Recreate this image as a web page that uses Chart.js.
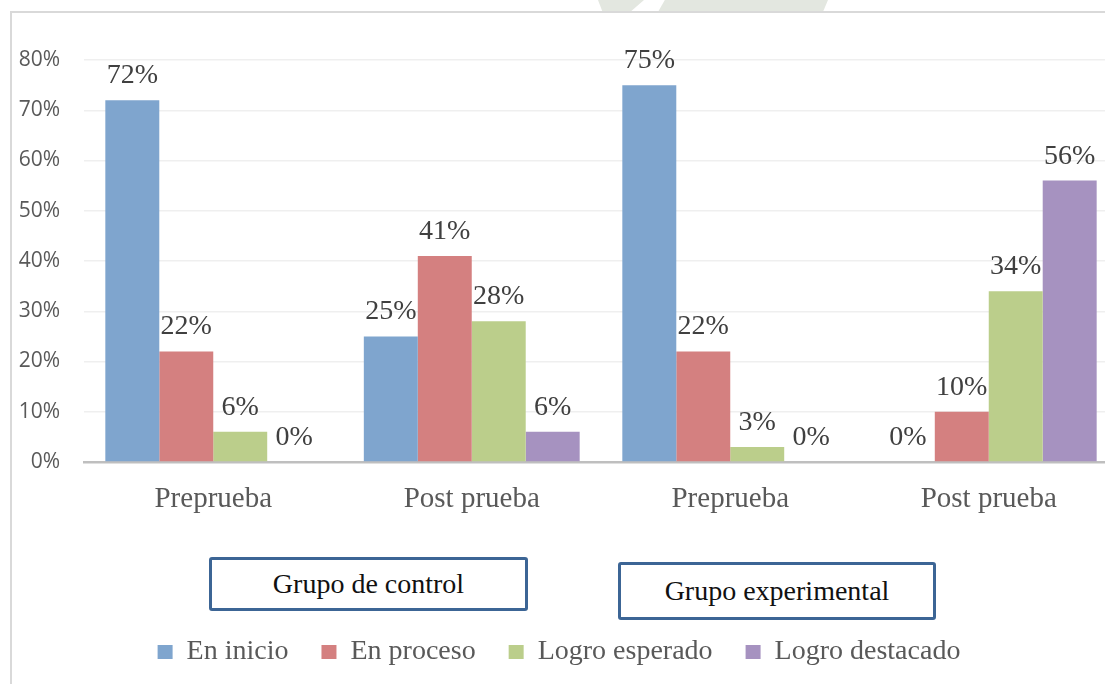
<!DOCTYPE html>
<html lang="es">
<head>
<meta charset="utf-8">
<script src="https://cdn.jsdelivr.net/npm/chart.js@4.4.1/dist/chart.umd.min.js"></script>
<style>
  html, body { margin: 0; padding: 0; background: #fff; overflow: hidden; }
  body { width: 1105px; height: 684px; position: relative; }
  .marco {
    position: absolute; left: 10px; top: 11px; right: -20px; bottom: -20px;
    border-top: 2px solid #d9d9d9; border-left: 2px solid #d9d9d9;
  }
  .sello { position: absolute; top: 0; height: 12px; background: #e3e7e0; }
  #grafico { position: absolute; left: 0; top: 0; }
  .grupo {
    position: absolute; box-sizing: border-box;
    border: 3px solid #3c6595; border-radius: 3px; background: #fff;
    font-family: "Liberation Serif", "Times New Roman", serif; font-size: 28px; color: #111;
    display: flex; align-items: center; justify-content: center;
  }
</style>
</head>
<body>
<div class="sello" style="left:598px;width:46px;clip-path:polygon(0 0,100% 0,70% 100%,10% 100%);"></div>
<div class="sello" style="left:658px;width:170px;clip-path:polygon(4% 0,100% 0,97% 100%,0 100%);"></div>
<div class="marco"></div>
<canvas id="grafico" width="1118" height="684"></canvas>
<div class="grupo" style="left:209px;top:557px;width:319px;height:54px;">Grupo de control</div>
<div class="grupo" style="left:618px;top:562px;width:318px;height:58px;">Grupo experimental</div>

<script>
// Categorías del eje X y porcentajes por nivel de logro
const categorias = ["Preprueba", "Post prueba", "Preprueba", "Post prueba"];

const enInicio       = [72, 25, 75, 0];
const enProceso      = [22, 41, 22, 10];
const logroEsperado  = [6, 28, 3, 34];
const logroDestacado = [0, 6, 0, 56];

const marcasY = [0, 10, 20, 30, 40, 50, 60, 70, 80];

const serif = "'Liberation Serif', 'Times New Roman', serif";

// Etiqueta con el porcentaje encima de cada barra (también los 0%)
const etiquetasBarras = {
  id: "etiquetasBarras",
  afterDatasetsDraw(chart) {
    const ctx = chart.ctx;
    ctx.save();
    ctx.font = "28px " + serif;
    ctx.fillStyle = "#404040";
    ctx.textAlign = "center";
    ctx.textBaseline = "alphabetic";
    chart.data.datasets.forEach((ds, i) => {
      const meta = chart.getDatasetMeta(i);
      meta.data.forEach((barra, j) => {
        ctx.fillText(ds.data[j] + "%", barra.x, barra.y - 17);
      });
    });
    ctx.restore();
  }
};

const serie = (label, data, color) => ({
  label,
  data,
  backgroundColor: color,
  borderWidth: 0,
  categoryPercentage: 0.835,
  barPercentage: 1
});

new Chart(document.getElementById("grafico"), {
  type: "bar",
  data: {
    labels: categorias,
    datasets: [
      serie("En inicio",        enInicio,       "#7fa5ce"),
      serie("En proceso",       enProceso,      "#d48080"),
      serie("Logro esperado",   logroEsperado,  "#bbce8b"),
      serie("Logro destacado",  logroDestacado, "#a692c0")
    ]
  },
  options: {
    responsive: false,
    devicePixelRatio: 1,
    animation: false,
    layout: { padding: { top: 60, left: 0, right: 0, bottom: 8 } },
    plugins: {
      tooltip: { enabled: false },
      legend: {
        position: "bottom",
        labels: {
          boxWidth: 15,
          boxHeight: 14,
          padding: 33,
          color: "#595959",
          font: { family: serif, size: 28 }
        }
      }
    },
    scales: {
      x: {
        grid: { display: false, drawTicks: false },
        border: { display: true, color: "#bfbfbf", width: 2.5 },
        ticks: {
          color: "#595959",
          padding: 20,
          font: { family: serif, size: 29 }
        },
        afterFit(scale) { scale.height = 143; }
      },
      y: {
        min: 0,
        max: 80,
        afterBuildTicks(scale) { scale.ticks = marcasY.map(v => ({ value: v })); },
        grid: { color: "#efefef", lineWidth: 1.5, drawTicks: false },
        border: { display: false },
        ticks: {
          color: "#595959",
          padding: 24,
          font: { family: "'Open Sans', sans-serif", size: 21 },
          callback: v => v + "%"
        },
        afterFit(scale) { scale.width = 84; }
      }
    }
  },
  plugins: [etiquetasBarras]
});
</script>
</body>
</html>
